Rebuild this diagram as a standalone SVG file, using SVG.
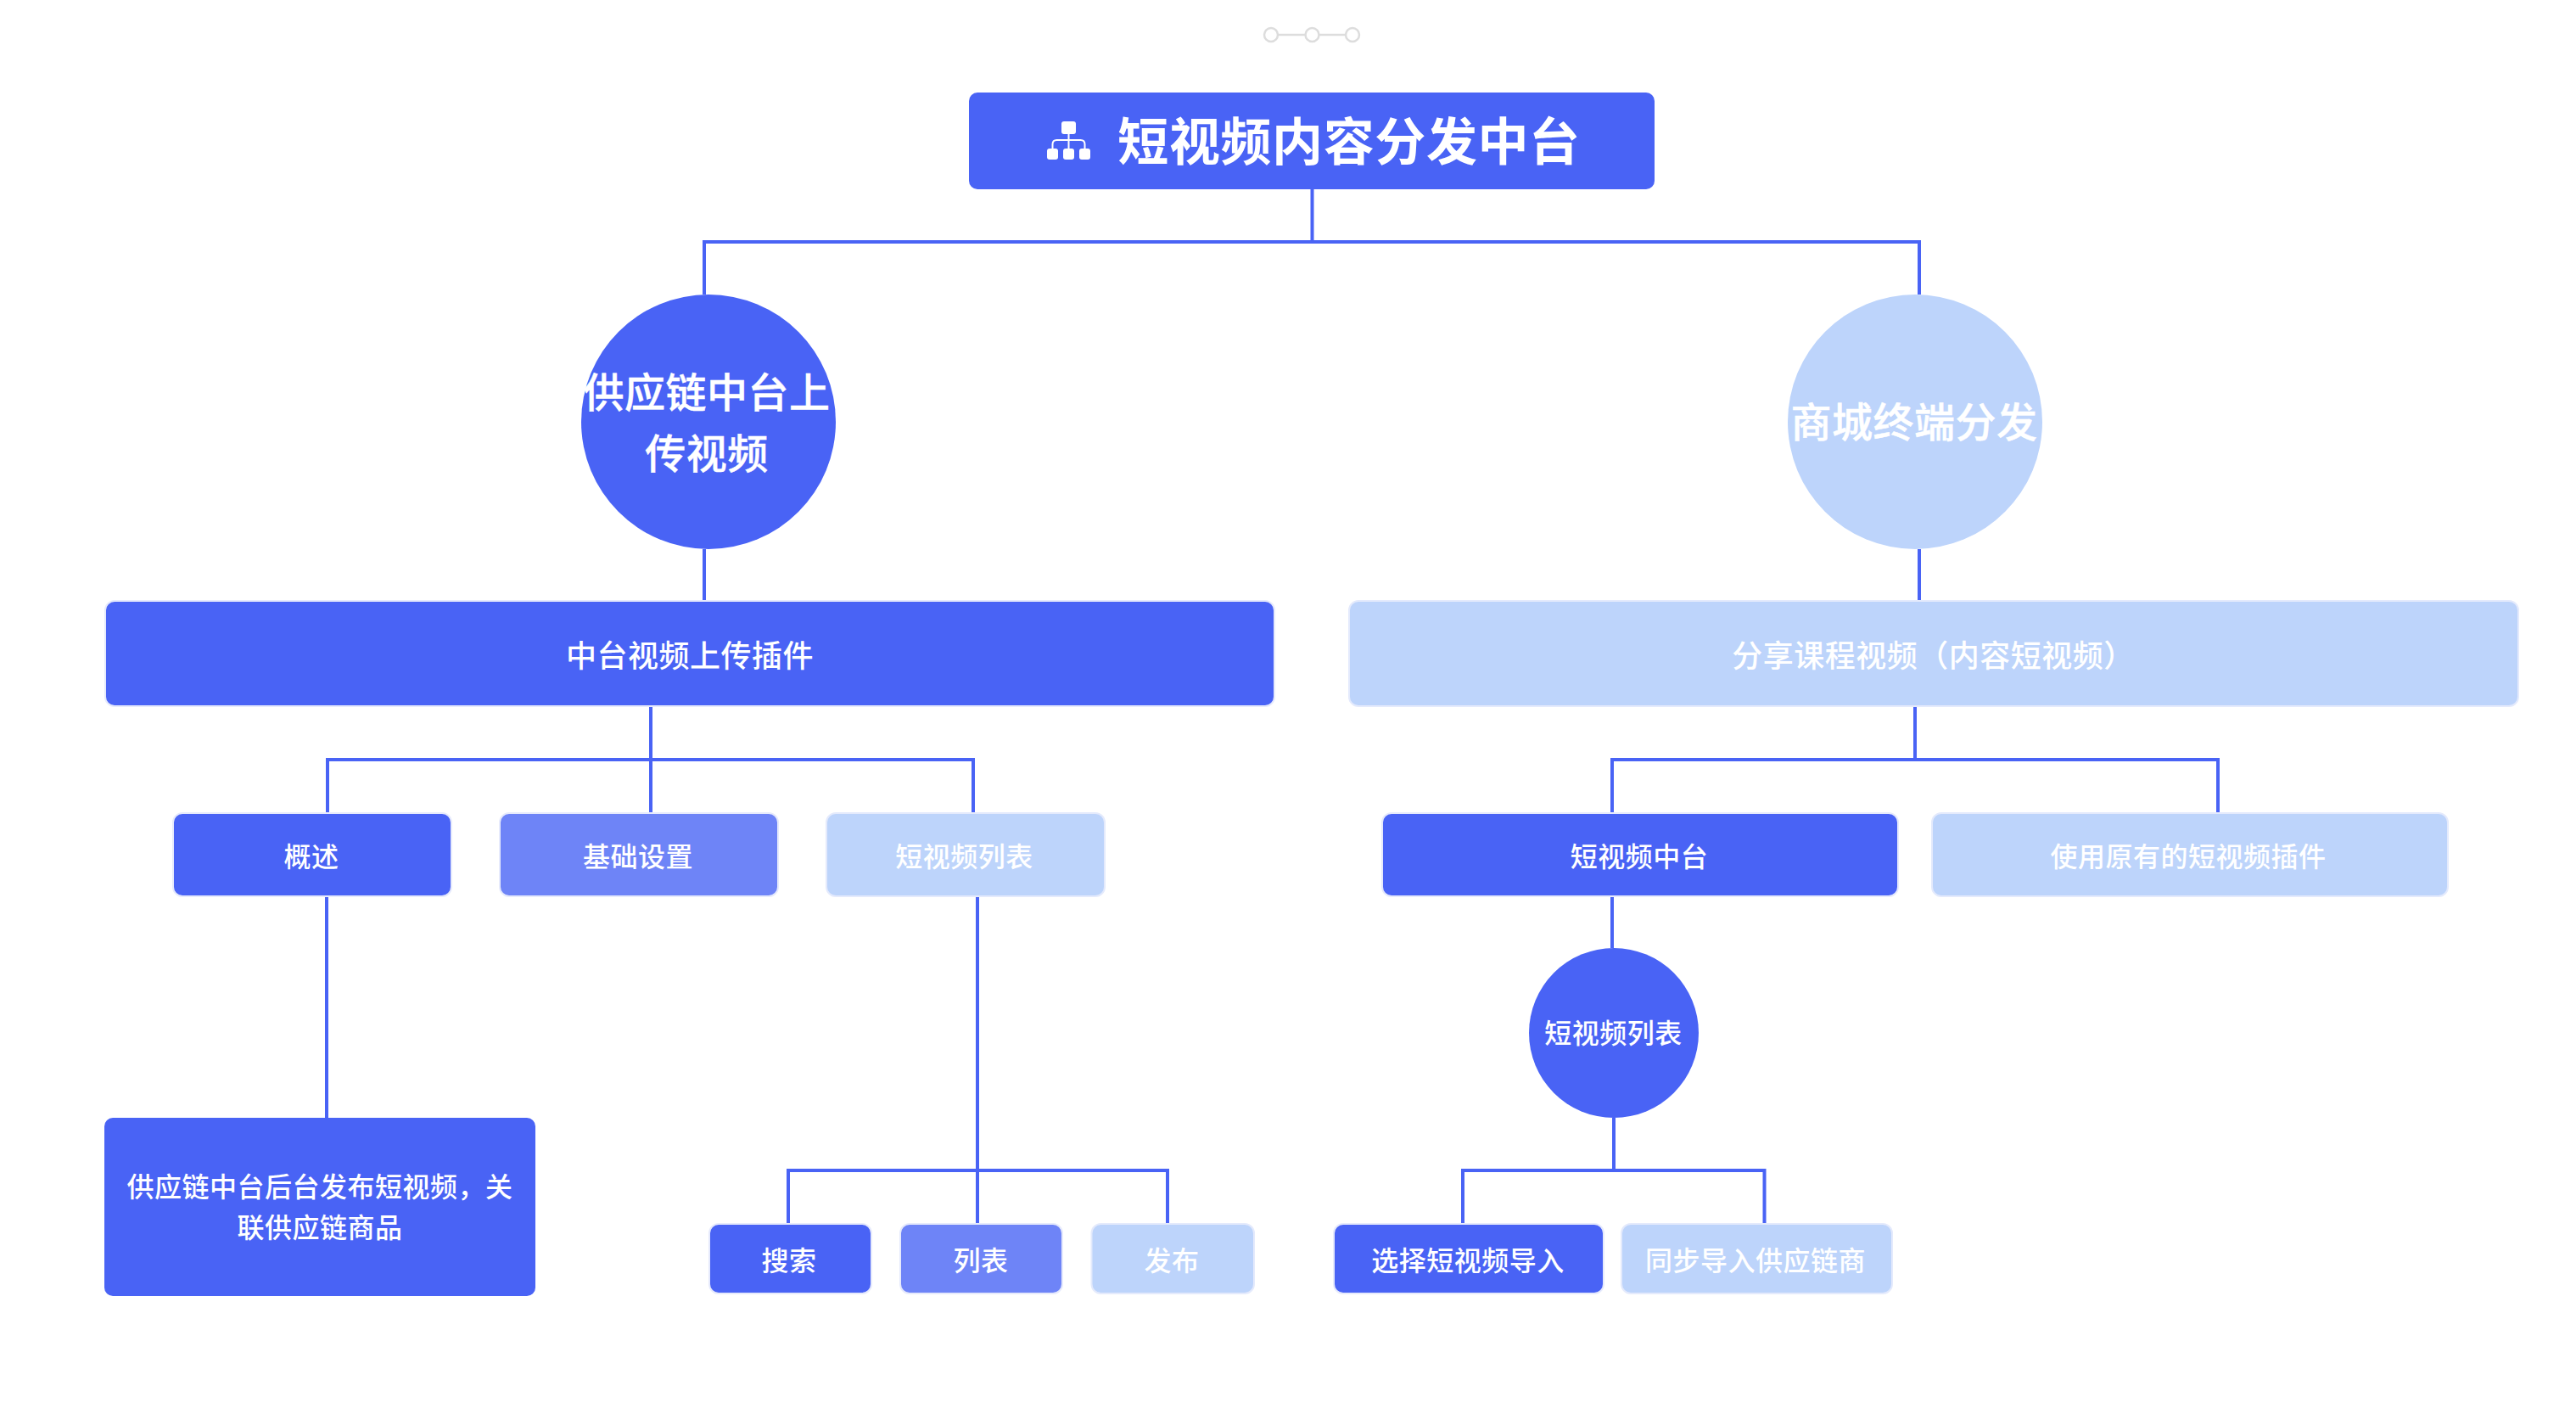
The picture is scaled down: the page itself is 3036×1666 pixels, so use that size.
<svg xmlns="http://www.w3.org/2000/svg" width="3036" height="1666" viewBox="0 0 3036 1666">
<style>
text{font-family:"Noto Sans CJK SC","Noto Sans",sans-serif;fill:#fff;text-anchor:middle;font-size:32px;font-weight:500;letter-spacing:.5px}
.t36{font-size:36px;letter-spacing:.5px}
.t48{font-size:48px;font-weight:500;letter-spacing:.5px;stroke:#fff;stroke-width:.5px}
.t60{font-size:60px;font-weight:700;letter-spacing:.6px}
.d{fill:#4963f5;stroke:#e6eafc;stroke-width:2}
.m{fill:#6e84f7;stroke:#e6eafc;stroke-width:2}
.l{fill:#bdd4fb;stroke:#e4eafc;stroke-width:2}
.c{fill:none;stroke:#4963f5;stroke-width:4}
.deco{fill:#fff;stroke:#ddd;stroke-width:2.5}
</style>
<rect width="3036" height="1666" fill="#fff"/>
<g id="decoration">
<path d="M1506 41H1538M1555 41H1587" fill="none" stroke="#ddd" stroke-width="2.5"/>
<circle class="deco" cx="1498" cy="41" r="8"/>
<circle class="deco" cx="1546.500" cy="41" r="8"/>
<circle class="deco" cx="1594" cy="41" r="8"/>
</g>
<g id="connectors">
<path class="c" d="M1546.500 223V285M830 347V285H2262V347"/>
<path class="c" d="M830 647V707M2262 647V707"/>
<path class="c" d="M767 833V957M386 957V895H1147V957"/>
<path class="c" d="M2257 833V895M1900 957V895H2614V957"/>
<path class="c" d="M385 1057V1317"/>
<path class="c" d="M1152 1057V1441M929 1441V1379H1376V1441"/>
<path class="c" d="M1900 1057V1117"/>
<path class="c" d="M1902 1317V1379M1724 1441V1379H2079.500V1441"/>
</g>
<g id="root">
<rect x="1142" y="109" width="808" height="114" rx="10" fill="#4963f5"/>
<g fill="#fff">
<rect x="1251" y="143" width="17" height="15" rx="3"/>
<rect x="1234" y="175" width="13" height="13" rx="3"/>
<rect x="1253" y="175" width="13" height="13" rx="3"/>
<rect x="1272" y="175" width="13" height="13" rx="3"/>
</g>
<path d="M1259.500 158V175M1240.500 175V170Q1240.500 165 1245.500 165H1273.500Q1278.500 165 1278.500 170V175" fill="none" stroke="#fff" stroke-width="2"/>
<text class="t60" x="1590" y="189">短视频内容分发中台</text>
</g>
<g id="circle-supply">
<circle cx="835" cy="497" r="150" fill="#4963f5"/>
<text class="t48" x="833" y="480">供应链中台上</text>
<text class="t48" x="833" y="552">传视频</text>
</g>
<g id="circle-mall">
<circle cx="2257" cy="497" r="150" fill="#bdd4fb"/>
<text class="t48" x="2256" y="515">商城终端分发</text>
</g>
<g id="plugin">
<rect class="d" x="124" y="708" width="1378" height="124" rx="11"/>
<text class="t36" x="813" y="786">中台视频上传插件</text>
</g>
<g id="share">
<rect class="l" x="1590" y="708" width="1378" height="124" rx="11"/>
<text class="t36" x="2278.500" y="786">分享课程视频（内容短视频）</text>
</g>
<g id="overview">
<rect class="d" x="204" y="958" width="328" height="98" rx="11"/>
<text x="367" y="1021">概述</text>
</g>
<g id="settings">
<rect class="m" x="589" y="958" width="328" height="98" rx="11"/>
<text x="752" y="1021">基础设置</text>
</g>
<g id="list-a">
<rect class="l" x="974" y="958" width="328" height="98" rx="11"/>
<text x="1136.500" y="1021">短视频列表</text>
</g>
<g id="video-platform">
<rect class="d" x="1629" y="958" width="608" height="98" rx="11"/>
<text x="1932" y="1021">短视频中台</text>
</g>
<g id="existing-plugin">
<rect class="l" x="2277" y="958" width="608" height="98" rx="11"/>
<text x="2579" y="1021">使用原有的短视频插件</text>
</g>
<g id="circle-list">
<circle cx="1902" cy="1217" r="100" fill="#4963f5"/>
<text x="1901.500" y="1229">短视频列表</text>
</g>
<g id="publish-note">
<rect x="123" y="1317" width="508" height="210" rx="10" fill="#4963f5"/>
<text x="377" y="1410">供应链中台后台发布短视频，关</text>
<text x="377" y="1458">联供应链商品</text>
</g>
<g id="search">
<rect class="d" x="836" y="1442" width="191" height="82" rx="11"/>
<text x="930" y="1497">搜索</text>
</g>
<g id="list-b">
<rect class="m" x="1061" y="1442" width="191" height="82" rx="11"/>
<text x="1156" y="1497">列表</text>
</g>
<g id="release">
<rect class="l" x="1286.500" y="1442" width="191.500" height="82" rx="11"/>
<text x="1381" y="1497">发布</text>
</g>
<g id="select-import">
<rect class="d" x="1572" y="1442" width="318" height="82" rx="11"/>
<text x="1730" y="1497">选择短视频导入</text>
</g>
<g id="sync-import">
<rect class="l" x="1911" y="1442" width="319" height="82" rx="11"/>
<text x="2069" y="1497">同步导入供应链商</text>
</g>
</svg>
